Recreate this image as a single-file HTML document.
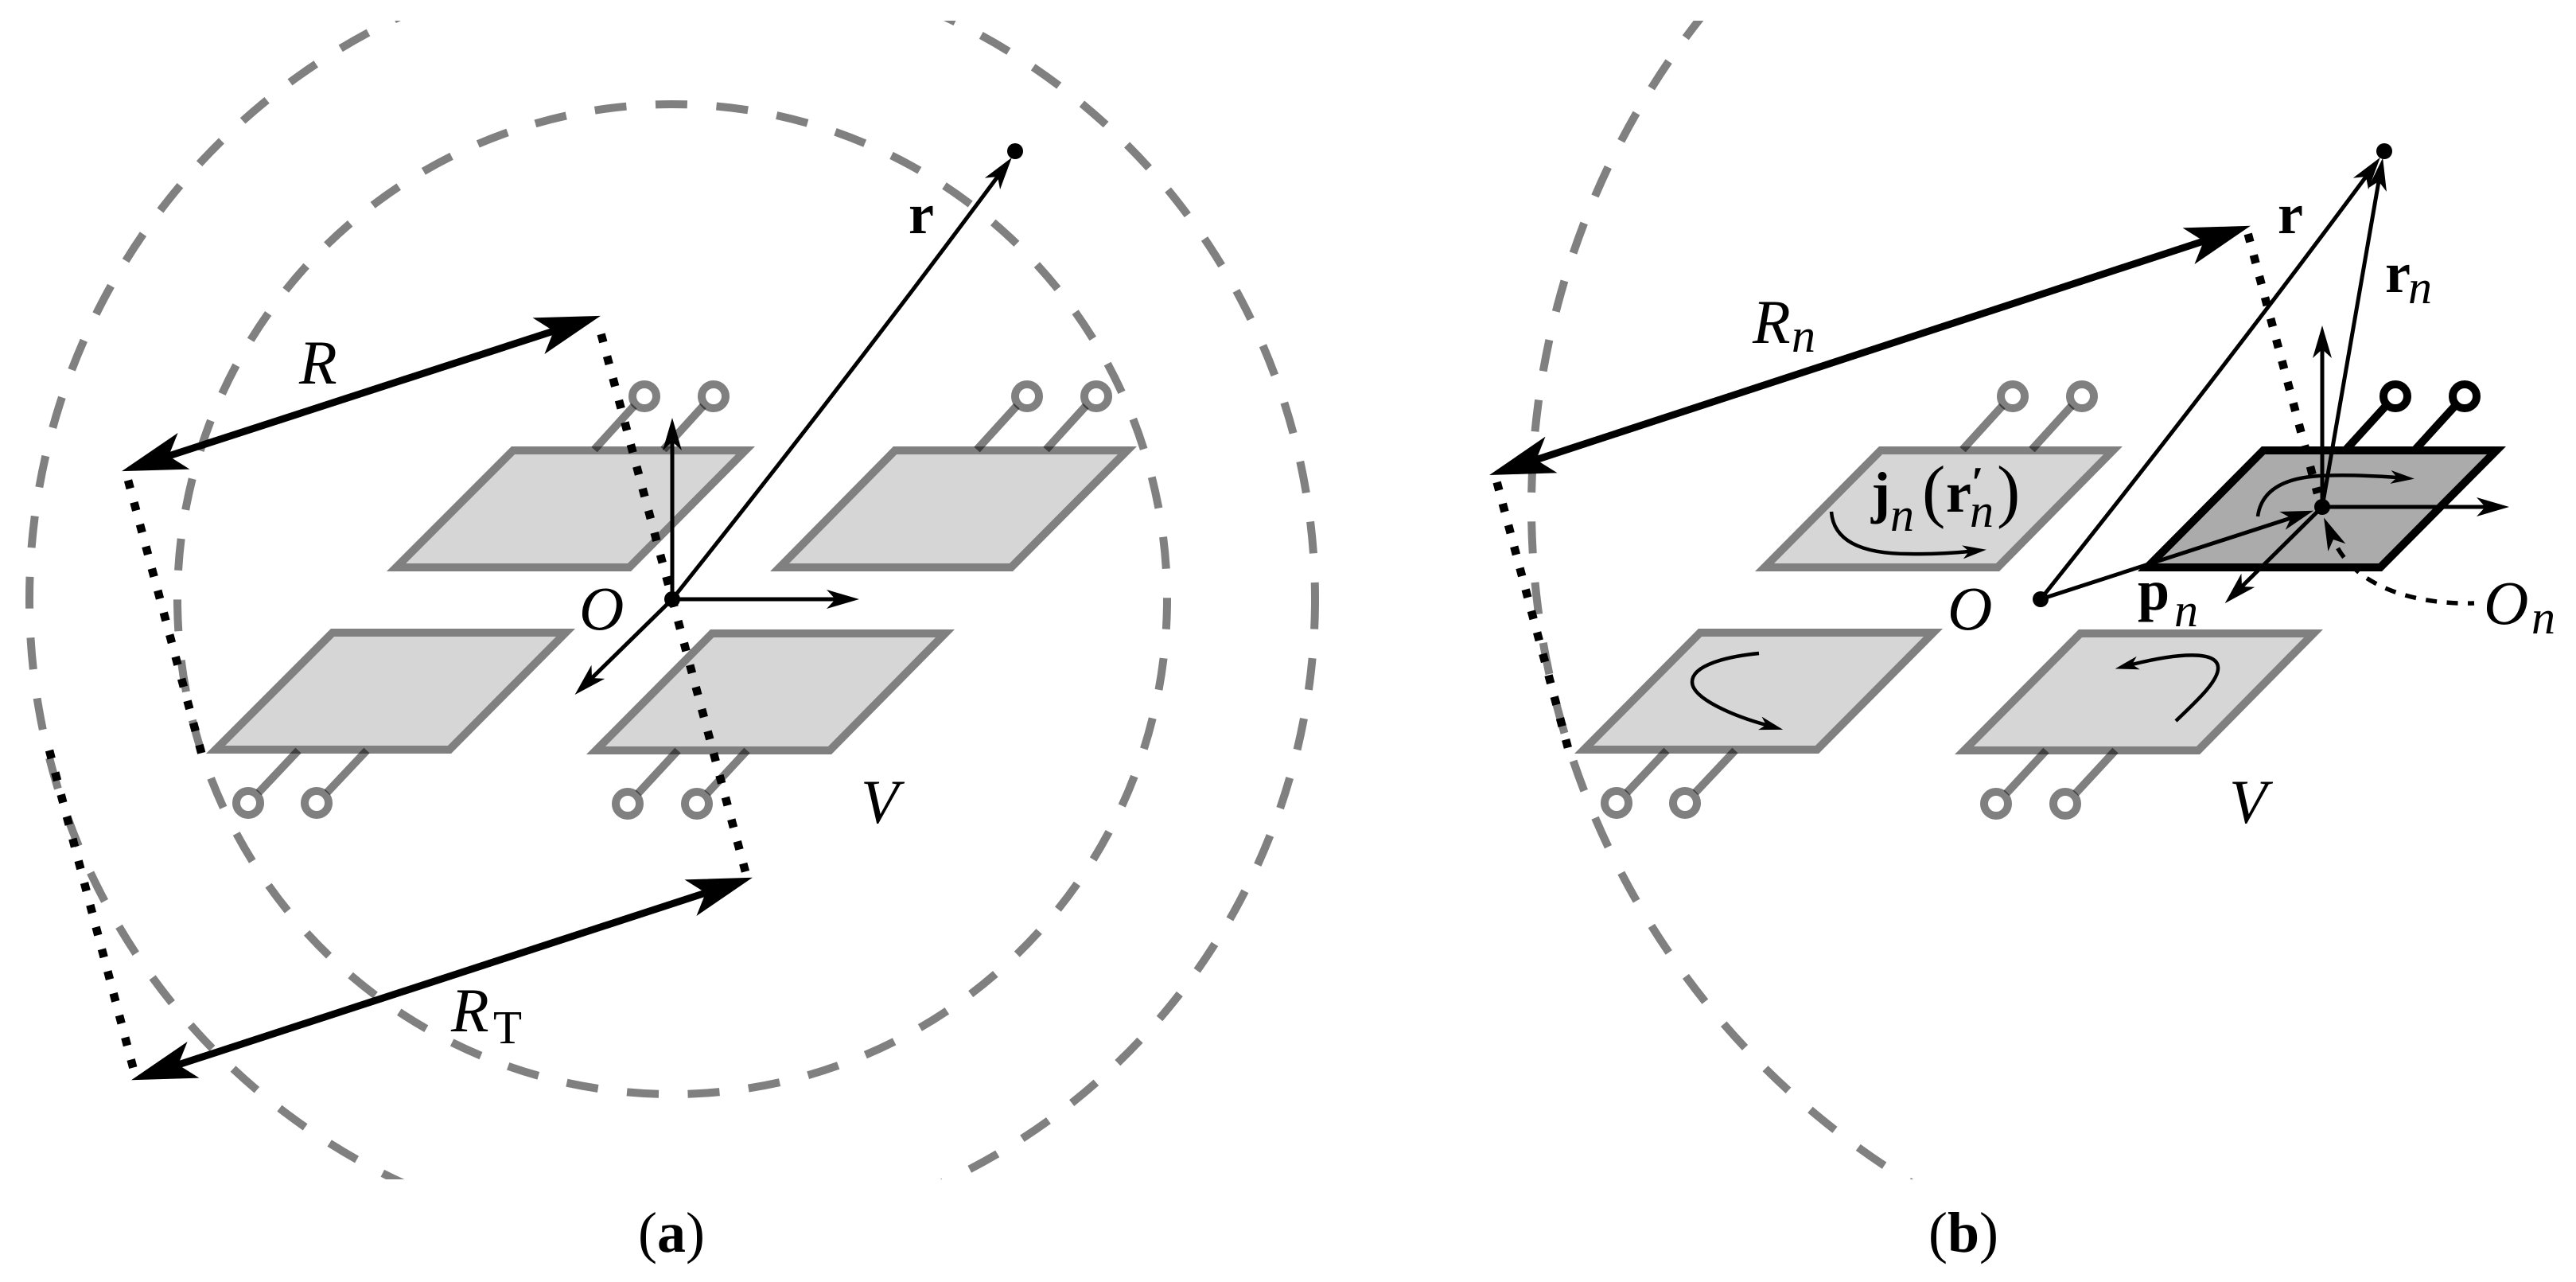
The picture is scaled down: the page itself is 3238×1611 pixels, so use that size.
<!DOCTYPE html>
<html><head><meta charset="utf-8"><style>
html,body{margin:0;padding:0;background:#fff}
svg{display:block}
.p{fill:#d6d6d6;stroke:#808080;stroke-width:10;stroke-linejoin:miter}
.d{fill:none;stroke:#808080;stroke-width:10}
.s{stroke:#000;stroke-opacity:.5;stroke-width:10;fill:none}
.c{fill:#fff;stroke:#808080;stroke-width:10}
.dot{fill:none;stroke:#000;stroke-width:10.5;stroke-dasharray:10.5 18.2}
.thick{fill:none;stroke:#000;stroke-width:9;marker-start:url(#mk);marker-end:url(#mk)}
.thin{fill:none;stroke:#000;stroke-width:5;marker-end:url(#mt)}
.cur{fill:none;stroke:#000;stroke-width:4.5;marker-end:url(#ms)}
text{font-family:"Liberation Serif",serif;fill:#000}
.i{font-style:italic;font-size:78px}
.sub{font-style:italic;font-size:60px}
.b{font-weight:bold;font-size:72px}
.cap{font-size:72px}
</style></head><body>
<svg xmlns="http://www.w3.org/2000/svg" width="3238" height="1611" viewBox="0 0 3238 1611">
<defs>
<marker id="mk" markerUnits="userSpaceOnUse" viewBox="-30 -40 120 80" markerWidth="120" markerHeight="80" refX="0" refY="0" orient="auto-start-reverse" overflow="visible"><path d="M62,0L-20,-24L0,0L-20,24Z" fill="#000"/></marker>
<marker id="mt" markerUnits="userSpaceOnUse" viewBox="-20 -20 60 40" markerWidth="60" markerHeight="40" refX="0" refY="0" orient="auto" overflow="visible"><path d="M30,0L-11,-12L0,0L-11,12Z" fill="#000"/></marker>
<marker id="ms" markerUnits="userSpaceOnUse" viewBox="-15 -15 45 30" markerWidth="45" markerHeight="30" refX="0" refY="0" orient="auto" overflow="visible"><path d="M22,0L-8,-8.5L0,0L-8,8.5Z" fill="#000"/></marker>
<clipPath id="cl"><rect x="0" y="26" width="3238" height="1456"/></clipPath>
</defs>
<rect width="3238" height="1611" fill="#fff"/>

<!-- dashed circles -->
<circle class="d" cx="845" cy="753" r="622" stroke-dasharray="40 36.63" stroke-dashoffset="2.2"/>
<g clip-path="url(#cl)">
<circle class="d" cx="845" cy="753" r="808" stroke-dasharray="40 36.63" stroke-dashoffset="2.4"/>
<circle class="d" cx="2919" cy="637" r="994" stroke-dasharray="40 36.63" stroke-dashoffset="1"/>
</g>

<!-- plates (a) -->
<polygon class="p" points="645,566 937,566 791,713 498,713"/>
<polygon class="p" points="1125,566 1417,566 1271,713 980,713"/>
<polygon class="p" points="418,795 711,795 565,942 271,942"/>
<polygon class="p" points="895,796 1188,796 1043,943 749,943"/>
<!-- plates (b) -->
<polygon class="p" points="2364,566 2656,566 2511,713 2218,713"/>
<polygon class="p" points="2137,795 2430,795 2284,942 1991,942"/>
<polygon class="p" points="2615,796 2908,796 2763,943 2469,943"/>
<polygon points="2845,566 3138,566 2992,713 2699,713" fill="#ababab" stroke="#000" stroke-width="10"/>

<!-- terminals -->
<g>
<circle class="c" cx="810" cy="498" r="15"/><circle class="c" cx="897" cy="498" r="15"/>
<circle class="c" cx="1291" cy="498" r="15"/><circle class="c" cx="1378" cy="498" r="15"/>
<circle class="c" cx="312" cy="1009" r="15"/><circle class="c" cx="398" cy="1009" r="15"/>
<circle class="c" cx="789" cy="1010" r="15"/><circle class="c" cx="876" cy="1010" r="15"/>
<circle class="c" cx="2530" cy="498" r="15"/><circle class="c" cx="2617" cy="498" r="15"/>
<circle class="c" cx="2032" cy="1009" r="15"/><circle class="c" cx="2118" cy="1009" r="15"/>
<circle class="c" cx="2509" cy="1010" r="15"/><circle class="c" cx="2596" cy="1010" r="15"/>
<path class="s" d="M747,565L797,510M834,565L884,510M1228,565L1278,510M1315,565L1365,510"/>
<path class="s" d="M375,943L325,996M461,943L411,996M852,943L802,997M939,943L889,997"/>
<path class="s" d="M2467,565L2517,510M2554,565L2604,510"/>
<path class="s" d="M2095,943L2045,996M2181,943L2131,996M2572,943L2522,997M2659,943L2609,997"/>
<circle cx="3011" cy="498" r="15" fill="#fff" stroke="#000" stroke-width="10"/>
<circle cx="3098" cy="498" r="15" fill="#fff" stroke="#000" stroke-width="10"/>
<path d="M2948,566L2999,510M3035,566L3086,510" stroke="#000" stroke-width="10" fill="none"/>
</g>

<!-- dotted construction lines -->
<path class="dot" d="M755.6,419.9L937.4,1097"/>
<path class="dot" d="M161,603.6L253.4,947"/>
<path class="dot" d="M62,943L167.4,1342"/>
<path class="dot" d="M1881.6,606L1973.4,949" style="stroke-dasharray:10.5 17.4"/>
<path class="dot" d="M2825.7,294L2913,620" style="stroke-dasharray:10.5 17"/>

<!-- thick arrows -->
<path class="thick" d="M212,573L696,416"/>
<path class="thick" d="M224,1338L887,1122"/>
<path class="thick" d="M1931,577.7L2770,303"/>

<!-- (a) axes -->
<path class="thin" d="M845,753L845,555"/>
<path class="thin" d="M845,753L1050,753"/>
<path class="thin" d="M845,753L744,852"/>
<path class="thin" d="M845,753Q1058,486 1254,222"/>
<circle cx="845" cy="753" r="10"/>
<circle cx="1276" cy="190" r="10"/>

<!-- (b) vectors -->
<path class="thin" d="M2565,753Q2778,486 2974,222"/>
<path class="thin" d="M2565,753L2879.5,651"/>
<path class="thin" d="M2919,637L2990,228"/>
<path class="thin" d="M2919,637L2919,439"/>
<path class="thin" d="M2919,637L3124,637"/>
<path class="thin" d="M2919,637L2818,737"/>
<circle cx="2565" cy="753" r="10"/>
<circle cx="2919" cy="637" r="10"/>
<circle cx="2997" cy="190" r="10"/>

<!-- current arcs -->
<path class="cur" d="M2302,643C2305,685 2350,696 2400,696C2430,696.5 2455,695 2475,693"/>
<path class="cur" d="M2211,821C2170,825 2127,836 2127,857C2127,878 2180,900 2220,911"/>
<path class="cur" d="M2735,906C2760,882 2790,855 2788,838C2786,818 2740,820 2680,835"/>
<path class="cur" d="M2838,649C2842,618 2868,601 2915,598C2950,596 2985,598 3013,600"/>

<!-- On dashed leader -->
<path d="M3110,758C3040,760 2960,740 2933,678" fill="none" stroke="#000" stroke-width="5.5" stroke-dasharray="14 12.5" stroke-dashoffset="6" marker-end="url(#mt)"/>

<!-- labels (a) -->
<text class="i" x="376" y="482">R</text>
<text class="i" x="567" y="1296">R</text>
<text x="620" y="1311" font-size="59">T</text>
<text class="i" x="1082" y="1034">V</text>
<text class="i" x="728" y="791">O</text>
<text class="b" x="1142" y="293">r</text>
<text class="cap" x="802" y="1573">(<tspan font-weight="bold">a</tspan>)</text>

<!-- labels (b) -->
<text class="i" x="2203" y="431">R</text>
<text class="sub" x="2252" y="442">n</text>
<text class="i" x="2802" y="1034">V</text>
<text class="i" x="2448" y="791">O</text>
<text class="i" x="3122" y="784">O</text>
<text class="sub" x="3182" y="796">n</text>
<text class="b" x="2863" y="293">r</text>
<text class="b" x="2998" y="367">r</text>
<text class="sub" x="3027" y="381">n</text>
<text class="b" x="2687" y="766">p</text>
<text class="sub" x="2733" y="787">n</text>
<text class="b" x="2352" y="643">j</text>
<text class="sub" x="2376" y="667">n</text>
<text x="2416" y="646" font-size="88">(</text>
<text class="b" x="2446" y="643">r</text>
<text class="b" x="2478" y="625" style="font-size:56px">′</text>
<text class="sub" x="2476" y="662">n</text>
<text x="2510" y="646" font-size="88">)</text>
<text class="cap" x="2424" y="1573">(<tspan font-weight="bold">b</tspan>)</text>
</svg>
</body></html>
